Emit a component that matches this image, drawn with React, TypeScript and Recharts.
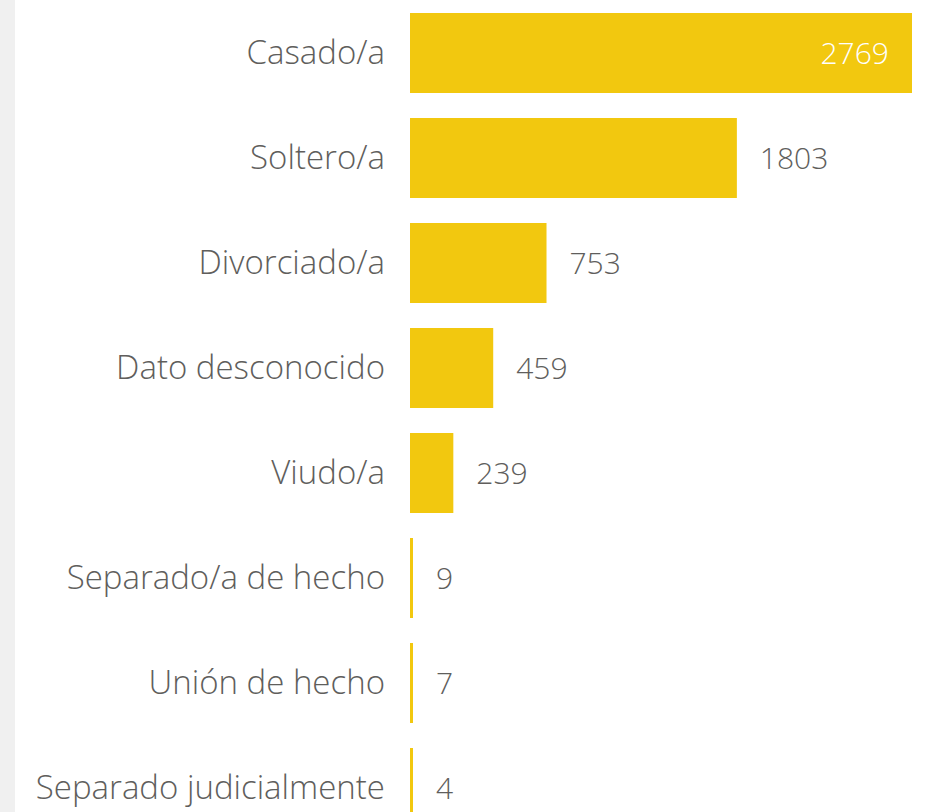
import { Bar, BarChart, LabelList, XAxis, YAxis } from 'recharts'

const categories = [
  'Casado/a',
  'Soltero/a',
  'Divorciado/a',
  'Dato desconocido',
  'Viudo/a',
  'Separado/a de hecho',
  'Unión de hecho',
  'Separado judicialmente'
]
const counts = [2769, 1803, 753, 459, 239, 9, 7, 4]

const data = categories.map((name, i) => ({ name, count: counts[i] }))
const maxCount = Math.max(...counts)

const FONT = '"Open Sans", "Noto Sans", sans-serif'

function ValueLabel(props: any) {
  const { x, y, width, height, value } = props
  const inside = value === maxCount
  return (
    <text
      x={inside ? x + width - 23 : x + width + 23}
      y={y + height / 2}
      dy="0.35em"
      textAnchor={inside ? 'end' : 'start'}
      fill={inside ? '#ffffff' : '#605e5c'}
      fontFamily={FONT}
      fontSize={30}
      fontWeight={300}
    >
      {value}
    </text>
  )
}

export default function App() {
  return (
    <div
      style={{
        position: 'fixed',
        top: 0,
        left: 0,
        width: 937,
        height: 812,
        overflow: 'hidden',
        background: '#ffffff'
      }}
    >
      <div style={{ position: 'absolute', left: 0, top: 0, width: 15, height: 812, background: '#f0f0f0' }} />
      <div style={{ position: 'absolute', left: 0, top: 0 }}>
        <BarChart
          width={937}
          height={840}
          data={data}
          layout="vertical"
          margin={{ top: 0, right: 25, bottom: 0, left: 0 }}
          barSize={80}
        >
          <XAxis type="number" domain={[0, 'dataMax']} hide />
          <YAxis
            type="category"
            dataKey="name"
            width={410}
            axisLine={false}
            tickLine={false}
            tickSize={0}
            tickMargin={25}
            interval={0}
            tick={{ fill: '#605e5c', fontFamily: FONT, fontSize: 33, fontWeight: 300 }}
          />
          <Bar dataKey="count" fill="#f2c80f" minPointSize={3} isAnimationActive={false}>
            <LabelList dataKey="count" content={ValueLabel} />
          </Bar>
        </BarChart>
      </div>
    </div>
  )
}
